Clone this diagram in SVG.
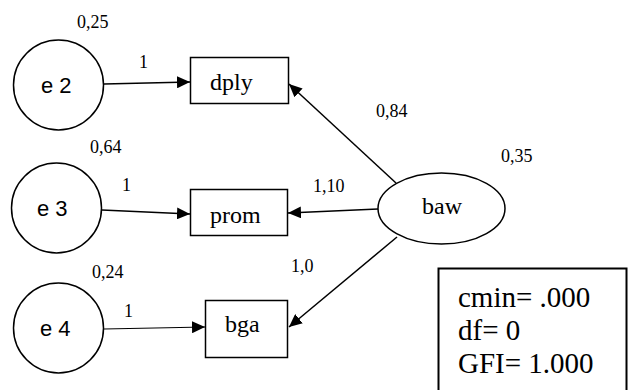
<svg xmlns="http://www.w3.org/2000/svg" width="629" height="390" viewBox="0 0 629 390">
<defs>
<marker id="arr" markerUnits="userSpaceOnUse" markerWidth="14" markerHeight="12" refX="13" refY="6" orient="auto">
<path d="M0,0 L13,6 L0,12 z" fill="#000"/>
</marker>
<style>
.shape{fill:#fff;stroke:#000;stroke-width:1.5}
.edge{fill:none;stroke:#000;stroke-width:1.5;marker-end:url(#arr)}
.num{font-family:"Liberation Serif",serif;font-size:18px;fill:#000}
.name{font-family:"Liberation Serif",serif;font-size:24px;fill:#000}
.err{font-family:"Liberation Sans",sans-serif;font-size:22px;fill:#000}
.fit{font-family:"Liberation Serif",serif;font-size:29px;fill:#000}
</style>
</defs>
<rect width="629" height="390" fill="#fff"/>
<g id="connectors">
<line class="edge" x1="104" y1="84" x2="190" y2="82"/>
<line class="edge" x1="102" y1="210" x2="190" y2="214"/>
<line class="edge" x1="104" y1="329" x2="205" y2="327" style="stroke-width:1.2"/>
<line class="edge" x1="396" y1="183" x2="289" y2="84"/>
<line class="edge" x1="378" y1="209" x2="288" y2="213"/>
<line class="edge" x1="397" y1="237" x2="289" y2="327"/>
<text class="num" x="139" y="68">1</text>
<text class="num" x="122" y="191">1</text>
<text class="num" x="124" y="317">1</text>
<text class="num" x="376" y="117">0,84</text>
<text class="num" x="313" y="192">1,10</text>
<text class="num" x="291" y="272">1,0</text>
</g>
<g id="e2">
<circle class="shape" cx="58.5" cy="85" r="45"/>
<text class="err" x="41" y="93">e 2</text>
<text class="num" x="77" y="28">0,25</text>
</g>
<g id="e3">
<circle class="shape" cx="56.5" cy="208" r="45"/>
<text class="err" x="37" y="216">e 3</text>
<text class="num" x="90" y="153">0,64</text>
</g>
<g id="e4">
<circle class="shape" cx="58.5" cy="328" r="45"/>
<text class="err" x="40" y="336">e 4</text>
<text class="num" x="92" y="278">0,24</text>
</g>
<g id="dply">
<rect class="shape" x="190.5" y="57.5" width="98" height="46"/>
<text class="name" x="210" y="90">dply</text>
</g>
<g id="prom">
<rect class="shape" x="190.5" y="189.5" width="97" height="46"/>
<text class="name" x="210" y="223">prom</text>
</g>
<g id="bga">
<rect class="shape" x="205.5" y="300.5" width="82" height="57"/>
<text class="name" x="225" y="332">bga</text>
</g>
<g id="baw">
<ellipse class="shape" cx="441.5" cy="208.5" rx="63.5" ry="35.5"/>
<text class="name" x="422" y="214">baw</text>
<text class="num" x="501" y="162">0,35</text>
</g>
<g id="fit">
<rect class="shape" x="438.5" y="268.5" width="188" height="130" style="stroke-width:2"/>
<text class="fit" x="458" y="307">cmin= .000</text>
<text class="fit" x="458" y="340">df= 0</text>
<text class="fit" x="458" y="373">GFI= 1.000</text>
</g>
</svg>
